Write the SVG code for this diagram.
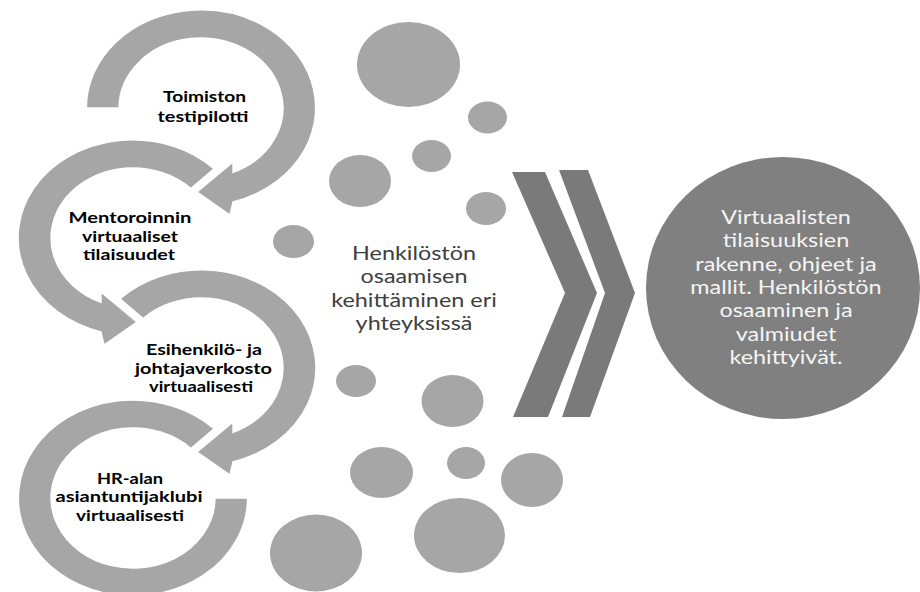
<svg xmlns="http://www.w3.org/2000/svg" width="920" height="592" viewBox="0 0 920 592">
<style>
.ring{fill:#a6a6a6;stroke:#ffffff;stroke-width:1.5;vector-effect:non-scaling-stroke}
.bub{fill:#a6a6a6}
.chev{fill:#7a7a7a}
.lbl{font-family:Lato,"Liberation Sans",sans-serif;font-weight:bold;font-size:15.5px;fill:#000;text-anchor:middle}
.mid{font-family:Lato,"Liberation Sans",sans-serif;font-size:20px;fill:#404040;text-anchor:middle}
.out{font-family:Lato,"Liberation Sans",sans-serif;font-size:20px;fill:#f4f4f4;text-anchor:middle}
</style>
<rect width="920" height="592" fill="#ffffff"/>

<g id="bubbles">
<ellipse class="bub" cx="408.5" cy="64.5" rx="51.5" ry="42.5"/>
<ellipse class="bub" cx="487.5" cy="117.5" rx="19.5" ry="16"/>
<ellipse class="bub" cx="431.5" cy="156" rx="19.5" ry="16"/>
<ellipse class="bub" cx="360" cy="181" rx="31" ry="26"/>
<ellipse class="bub" cx="486" cy="208.5" rx="20" ry="16.5"/>
<ellipse class="bub" cx="293.5" cy="241.5" rx="20.5" ry="16.5"/>
<ellipse class="bub" cx="356" cy="381" rx="20" ry="16"/>
<ellipse class="bub" cx="452.5" cy="401" rx="31" ry="26"/>
<ellipse class="bub" cx="381.5" cy="472.5" rx="31.5" ry="25.5"/>
<ellipse class="bub" cx="466" cy="463" rx="19" ry="16"/>
<ellipse class="bub" cx="532" cy="480" rx="31" ry="27"/>
<ellipse class="bub" cx="459.5" cy="535.5" rx="45.5" ry="37.5"/>
<ellipse class="bub" cx="316" cy="553" rx="46" ry="38.5"/>
</g>

<g id="ring4">
<g transform="translate(133,498) scale(1.17,1)">
<path class="ring" d="M 69.3 -69.3 A 98 98 0 1 0 98 0 L 70 0 A 70 70 0 1 1 49.5 -49.5 Z"/>
</g>
<text class="lbl" x="130" y="483.5" textLength="66" lengthAdjust="spacingAndGlyphs">HR-alan</text>
<text class="lbl" x="129" y="502" textLength="147" lengthAdjust="spacingAndGlyphs">asiantuntijaklubi</text>
<text class="lbl" x="130" y="520.5" textLength="108" lengthAdjust="spacingAndGlyphs">virtuaalisesti</text>
</g>

<g id="ring3">
<g transform="translate(201,368) scale(1.17,1)">
<path class="ring" d="M -69.3 -69.3 A 98 98 0 1 1 27.4 93.9 L 24.8 107 L -3.4 84 L 27.4 54 L 27.4 64.4 A 70 70 0 1 0 -49.5 -49.5 Z"/>
</g>
<text class="lbl" x="204" y="355" textLength="116" lengthAdjust="spacingAndGlyphs">Esihenkilö- ja</text>
<text class="lbl" x="203.5" y="373.5" textLength="137" lengthAdjust="spacingAndGlyphs">johtajaverkosto</text>
<text class="lbl" x="201" y="392" textLength="104" lengthAdjust="spacingAndGlyphs">virtuaalisesti</text>
</g>

<g id="ring2">
<g transform="translate(133,238) scale(1.17,1)">
<path class="ring" d="M 69.3 -69.3 A 98 98 0 1 0 -27.4 93.9 L -24.8 107 L 3.4 84 L -27.4 54 L -27.4 64.4 A 70 70 0 1 1 49.5 -49.5 Z"/>
</g>
<text class="lbl" x="130" y="223" textLength="123" lengthAdjust="spacingAndGlyphs">Mentoroinnin</text>
<text class="lbl" x="130" y="241.5" textLength="96" lengthAdjust="spacingAndGlyphs">virtuaaliset</text>
<text class="lbl" x="129" y="260" textLength="92" lengthAdjust="spacingAndGlyphs">tilaisuudet</text>
</g>

<g id="ring1">
<g transform="translate(201,108) scale(1.17,1)">
<path class="ring" d="M -98 0 A 98 98 0 1 1 27.4 93.9 L 24.8 107 L -3.4 84 L 27.4 54 L 27.4 64.4 A 70 70 0 1 0 -70 0 Z"/>
</g>
<text class="lbl" x="204.5" y="102" textLength="83" lengthAdjust="spacingAndGlyphs">Toimiston</text>
<text class="lbl" x="203" y="121.5" textLength="91" lengthAdjust="spacingAndGlyphs">testipilotti</text>
</g>

<g id="middle-text">
<g transform="translate(414,0) scale(1.17,1)">
<text class="mid" x="0" y="260">Henkilöstön</text>
<text class="mid" x="0" y="283">osaamisen</text>
<text class="mid" x="0" y="307">kehittäminen eri</text>
<text class="mid" x="0" y="330">yhteyksissä</text>
</g>
</g>

<g id="connectors">
<polygon class="chev" points="512,172 545,172 597,293 548,417 513,417 565,293"/>
<polygon class="chev" points="559,170 588,170 635,293 590,417 562,417 605,293"/>
</g>

<g id="result">
<ellipse cx="783" cy="288" rx="137" ry="131" fill="#808080"/>
<g transform="translate(786,0) scale(1.17,1)">
<text class="out" x="0" y="224">Virtuaalisten</text>
<text class="out" x="0" y="247">tilaisuuksien</text>
<text class="out" x="0" y="271">rakenne, ohjeet ja</text>
<text class="out" x="0" y="294">mallit. Henkilöstön</text>
<text class="out" x="0" y="317">osaaminen ja</text>
<text class="out" x="0" y="341">valmiudet</text>
<text class="out" x="0" y="364">kehittyivät.</text>
</g>
</g>
</svg>
